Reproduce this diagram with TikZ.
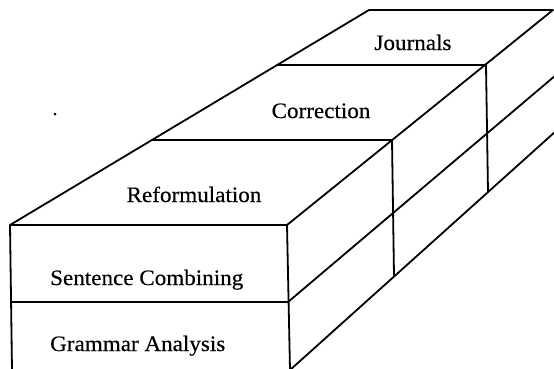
\documentclass[tikz,border=0pt]{standalone}
\usepackage{fontspec}
\setmainfont{Liberation Serif}[FakeStretch=1.05, FakeBold=0.4]
\begin{document}
\begin{tikzpicture}[x=1pt,y=-1pt,
  edge/.style={line width=1.8pt, line cap=round, line join=round},
  lbl/.style={font=\fontsize{22}{26}\selectfont, inner sep=0pt, anchor=base}]
\useasboundingbox (0,0) rectangle (554,368);
% front block
\coordinate (ftl) at (10,225);
\coordinate (ftr) at (287,225);
\coordinate (fml) at (11,302);
\coordinate (fmr) at (288,302);
\coordinate (fbl) at (12,370);
\coordinate (fbr) at (290,370);
% far top corners
\coordinate (btl) at (369,10);
\coordinate (btr) at (553,10);
% step edges of the middle and back blocks
\coordinate (cl) at (152,140);
\coordinate (cr) at (392,140);
\coordinate (cb) at (394,276);
\coordinate (jl) at (277,65);
\coordinate (jr) at (486,65);
\coordinate (jb) at (488,192);
% receding lines leave through the right border
\coordinate (mend) at (556,75);
\coordinate (bend) at (556,131);
\coordinate (speck) at (55,114);

\draw[edge] (fbl) -- (ftl) -- (btl) -- (btr) -- (ftr) -- (fbr);
\draw[edge] (ftl) -- (ftr);
\draw[edge] (fml) -- (fmr) -- (mend);
\draw[edge] (fbr) -- (bend);
\draw[edge] (cl) -- (cr) -- (cb);
\draw[edge] (jl) -- (jr) -- (jb);
\fill (speck) circle (1.5);

\node[lbl] (journals) at (413,50) {Journals};
\node[lbl] (correction) at (321,118) {Correction};
\node[lbl] (reform) at (194,202) {Reformulation};
\node[lbl, anchor=base west] (sentence) at (50,285) {Sentence Combining};
\node[lbl, anchor=base west] (grammar) at (50,351) {Grammar Analysis};
\end{tikzpicture}
\end{document}
